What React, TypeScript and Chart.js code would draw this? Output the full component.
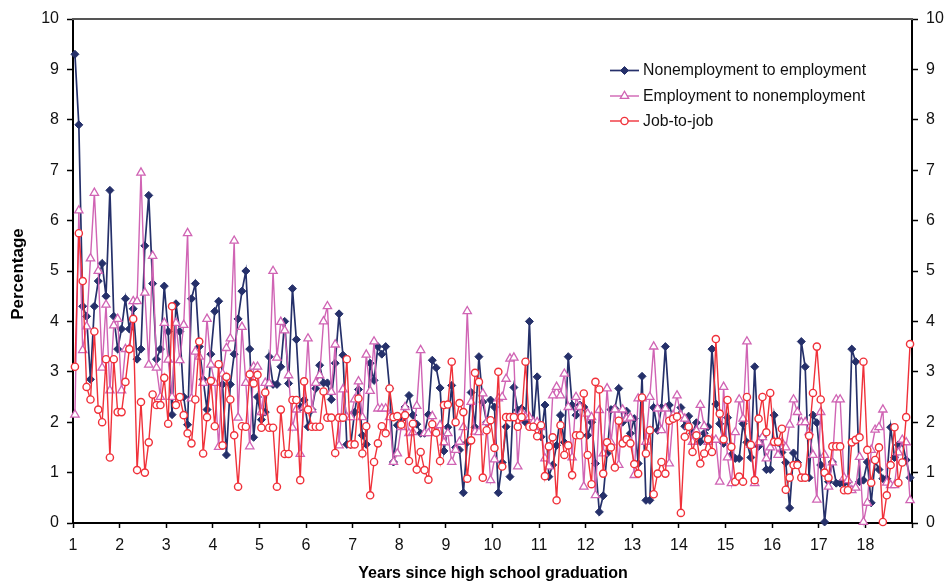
import React, { useEffect, useRef } from 'react';
import { Chart, registerables } from 'chart.js';

Chart.register(...registerables);

// Monthly transition rates (percent), one value per month starting at year 1.
const START_YEAR = 1;
const END_YEAR = 19;
const MONTHS_PER_YEAR = 12;

const nonempToEmp = [
  9.3, 7.9, 4.3, 4.1, 2.85, 4.3, 4.8, 5.15, 4.5, 6.6,
  4.1, 3.45, 3.85, 4.45, 3.85, 4.25, 3.25, 3.45, 5.5, 6.5,
  4.75, 3.25, 3.45, 4.7, 3.8, 2.15, 4.35, 3.8, 2.5, 1.95,
  4.45, 4.75, 3.5, 2.85, 2.25, 3.35, 4.2, 4.4, 2.75, 1.35,
  2.75, 3.35, 4.05, 4.6, 5.0, 3.45, 1.7, 2.5, 2.05, 2.2,
  3.3, 2.75, 2.75, 3.1, 4.0, 2.77, 4.65, 3.64, 2.29, 2.44,
  1.91, 2.25, 2.67, 3.13, 2.78, 2.78, 2.45, 3.17, 4.15, 3.33,
  1.56, 1.56, 2.2, 2.65, 1.74, 1.56, 3.17, 2.83, 3.5, 3.35,
  3.5, 2.67, 1.21, 1.94, 2.05, 2.3, 2.53, 2.14, 1.96, 1.78,
  1.78, 2.15, 3.23, 3.08, 2.68, 1.43, 1.9, 2.73, 1.5, 1.45,
  0.6, 1.6, 2.59, 1.9, 3.3, 2.4, 2.0, 2.44, 2.3, 0.6,
  1.2, 1.91, 0.92, 2.69, 2.24, 2.27, 2.0, 4.0, 1.91, 2.9,
  1.71, 2.34, 0.92, 1.15, 1.54, 2.14, 1.6, 3.3, 2.34, 2.14,
  2.34, 2.3, 1.74, 2.0, 1.18, 0.22, 0.54, 1.38, 2.25, 2.27,
  2.67, 2.0, 2.22, 1.78, 2.07, 1.18, 2.91, 0.45, 0.45, 2.29,
  1.84, 2.29, 3.5, 2.34, 2.07, 2.1, 2.29, 1.92, 2.12, 1.78,
  1.99, 1.61, 1.78, 1.91, 3.45, 2.36, 1.97, 1.58, 2.09, 1.35,
  1.28, 1.28, 1.97, 1.6, 1.3, 3.1, 1.52, 1.7, 1.06, 1.06,
  2.14, 1.6, 1.4, 1.2, 0.3, 1.39, 1.2, 3.6, 3.1, 0.9,
  2.14, 1.99, 1.15, 0.02, 0.82, 1.21, 0.79, 0.79, 0.79, 0.82,
  3.45, 3.2, 0.82, 0.85, 1.21, 0.4, 1.23, 1.06, 0.88, 0.88,
  1.9, 1.3, 1.55, 1.6, 1.25, 0.9,
];

const empToNonemp = [
  2.15, 6.2, 3.43, 3.9, 5.25, 6.55, 5.0, 3.08, 4.33, 2.63,
  3.92, 4.05, 2.63, 3.45, 3.46, 4.4, 4.4, 6.95, 4.57, 3.14,
  5.3, 3.08, 2.5, 3.97, 3.24, 2.5, 3.97, 3.23, 3.93, 5.75,
  2.47, 3.4, 3.3, 2.78, 4.05, 3.14, 2.78, 1.51, 2.96, 3.47,
  3.66, 5.6, 2.09, 3.89, 2.78, 1.52, 3.1, 3.1, 2.2, 2.78,
  2.77, 5.0, 3.28, 3.99, 3.82, 2.93, 1.89, 2.25, 1.37, 2.3,
  3.66, 2.25, 2.78, 2.93, 4.0, 4.3, 2.6, 3.54, 1.54, 2.65,
  2.1, 2.1, 2.45, 2.81, 2.1, 3.34, 2.62, 3.6, 2.27, 2.27,
  2.27, 2.1, 1.21, 1.38, 1.9, 2.3, 1.78, 1.8, 2.32, 3.43,
  1.78, 1.78, 2.12, 1.8, 1.94, 1.6, 1.78, 1.21, 1.45, 1.61,
  1.9, 4.2, 2.4, 1.81, 1.8, 2.57, 2.0, 0.85, 1.26, 2.47,
  2.5, 2.86, 3.26, 3.28, 1.12, 2.2, 2.1, 2.1, 2.0, 2.0,
  1.9, 1.28, 1.12, 2.53, 2.7, 2.53, 2.96, 2.3, 1.3, 2.5,
  2.3, 0.72, 2.17, 2.1, 0.55, 2.24, 1.38, 2.67, 1.6, 2.25,
  1.15, 2.25, 2.07, 2.09, 0.95, 2.47, 2.47, 1.61, 2.5, 3.5,
  2.27, 1.84, 2.27, 1.18, 2.14, 2.53, 2.14, 2.07, 1.92, 1.61,
  1.83, 2.34, 1.92, 1.61, 1.66, 1.65, 0.82, 2.7, 1.3, 0.79,
  1.8, 2.45, 2.07, 3.6, 1.55, 0.79, 1.6, 1.7, 1.28, 1.5,
  1.6, 1.35, 1.6, 1.5, 1.95, 2.45, 2.2, 2.0, 2.0, 1.8,
  1.35, 0.46, 2.2, 1.35, 0.72, 1.2, 2.45, 2.45, 0.9, 0.85,
  0.65, 0.7, 1.31, 0.02, 0.4, 1.45, 1.85, 1.9, 2.25, 0.8,
  0.75, 0.75, 1.4, 1.65, 1.6, 0.45,
];

const jobToJob = [
  3.1, 5.75, 4.8, 2.7, 2.45, 3.8, 2.25, 2.0, 3.25, 1.3,
  3.25, 2.2, 2.2, 2.8, 3.45, 4.05, 1.05, 2.4, 1.0, 1.6,
  2.55, 2.34, 2.34, 2.88, 1.97, 4.3, 2.34, 2.5, 2.14, 1.78,
  1.58, 2.45, 3.6, 1.38, 2.1, 2.82, 1.92, 3.15, 1.54, 2.9,
  2.45, 1.74, 0.72, 1.92, 1.91, 2.95, 2.77, 2.94, 1.89, 2.59,
  1.89, 1.89, 0.72, 2.25, 1.37, 1.37, 2.44, 2.44, 0.85, 2.81,
  2.25, 1.91, 1.91, 1.91, 2.61, 2.09, 2.09, 1.39, 2.09, 2.09,
  3.25, 1.56, 1.56, 2.47, 1.38, 1.92, 0.55, 1.21, 1.58, 1.92,
  1.78, 2.67, 2.1, 2.12, 1.95, 2.14, 1.23, 1.97, 1.06, 1.41,
  1.05, 0.86, 1.96, 1.79, 1.23, 2.34, 2.35, 3.2, 2.0, 2.38,
  2.2, 0.88, 1.64, 2.98, 2.8, 0.9, 1.84, 2.04, 1.49, 3.0,
  1.12, 2.1, 2.1, 2.1, 1.91, 2.1, 3.2, 1.91, 1.91, 1.72,
  1.94, 0.93, 1.52, 1.7, 0.45, 1.94, 1.35, 1.54, 0.95, 1.74,
  1.74, 2.57, 1.35, 0.77, 2.8, 2.65, 0.98, 1.6, 1.5, 1.1,
  2.03, 1.58, 1.66, 1.58, 1.17, 0.98, 2.49, 1.38, 1.84, 0.57,
  0.98, 1.21, 0.98, 2.03, 2.07, 2.11, 0.2, 1.71, 1.91, 1.41,
  1.74, 1.18, 1.38, 1.66, 1.41, 3.65, 2.17, 1.66, 2.44, 1.51,
  0.82, 0.92, 0.82, 2.5, 1.55, 0.85, 2.07, 2.5, 1.8, 2.58,
  1.61, 1.61, 1.87, 0.66, 0.9, 1.15, 1.15, 0.9, 0.9, 1.73,
  2.58, 3.5, 2.45, 1.0, 0.9, 1.52, 1.52, 1.52, 0.65, 0.65,
  1.6, 1.65, 1.7, 3.2, 1.45, 0.8, 1.25, 1.5, 0.02, 0.55,
  1.15, 1.9, 0.8, 1.2, 2.1, 3.55,
];

const seriesNames = [
  'Nonemployment to employment',
  'Employment to nonemployment',
  'Job-to-job',
];

const yTickValues = [0, 1, 2, 3, 4, 5, 6, 7, 8, 9, 10];
const xTickLabels = ['1', '2', '3', '4', '5', '6', '7', '8', '9', '10', '11', '12', '13', '14', '15', '16', '17', '18'];

const X_TITLE = 'Years since high school graduation';
const Y_TITLE = 'Percentage';

const FONT = "'Liberation Sans', Arial, Helvetica, sans-serif";
const NAVY = '#25306a';
const ORCHID = '#d064b4';
const RED = '#f0313a';

const toPoints = (values: number[]) =>
  values.map((v, i) => ({ x: START_YEAR + (i + 0.5) / MONTHS_PER_YEAR, y: v }));

// Marker shapes for the legend samples, matching the dataset point styles.
function drawMarker(ctx: CanvasRenderingContext2D, style: string, r: number, x: number, y: number) {
  ctx.beginPath();
  if (style === 'rectRot') {
    ctx.moveTo(x, y - r);
    ctx.lineTo(x + r, y);
    ctx.lineTo(x, y + r);
    ctx.lineTo(x - r, y);
    ctx.closePath();
  } else if (style === 'triangle') {
    for (let k = 0; k < 3; k++) {
      const a = -Math.PI / 2 + (k * 2 * Math.PI) / 3;
      const px = x + Math.cos(a) * r;
      const py = y + Math.sin(a) * r;
      if (k === 0) ctx.moveTo(px, py);
      else ctx.lineTo(px, py);
    }
    ctx.closePath();
  } else {
    ctx.arc(x, y, r, 0, Math.PI * 2);
  }
  ctx.fill();
  ctx.stroke();
}

// Inline legend in the upper right of the plot, with line + marker samples.
const insetLegend = {
  id: 'insetLegend',
  afterDatasetsDraw(chart: any) {
    const { ctx } = chart;
    const x0 = 610;
    const x1 = 639;
    const textX = 643;
    const rows = [70.5, 96, 121];
    ctx.save();
    chart.data.datasets.forEach((ds: any, k: number) => {
      const y = rows[k];
      ctx.strokeStyle = ds.borderColor;
      ctx.lineWidth = ds.borderWidth;
      ctx.beginPath();
      ctx.moveTo(x0, y);
      ctx.lineTo(x1, y);
      ctx.stroke();
      ctx.fillStyle = ds.pointBackgroundColor;
      ctx.strokeStyle = ds.pointBorderColor;
      ctx.lineWidth = ds.pointBorderWidth;
      drawMarker(ctx, ds.pointStyle, ds.pointRadius, (x0 + x1) / 2, y);
      ctx.fillStyle = '#111';
      ctx.font = `15.8px ${FONT}`;
      ctx.textAlign = 'left';
      ctx.textBaseline = 'middle';
      ctx.fillText(seriesNames[k], textX, y + 0.5);
    });
    ctx.restore();
  },
};

// Frame top edge and the two axis titles.
const frameAndTitles = {
  id: 'frameAndTitles',
  beforeDatasetsDraw(chart: any) {
    const { ctx, chartArea } = chart;
    ctx.save();
    ctx.strokeStyle = '#555';
    ctx.lineWidth = 2;
    ctx.beginPath();
    ctx.moveTo(chartArea.left - 1, chartArea.top);
    ctx.lineTo(chartArea.right + 1, chartArea.top);
    ctx.stroke();
    ctx.restore();
  },
  afterDraw(chart: any) {
    const { ctx, chartArea } = chart;
    ctx.save();
    ctx.fillStyle = '#000';
    ctx.font = `bold 16px ${FONT}`;
    ctx.textAlign = 'center';
    ctx.textBaseline = 'middle';
    ctx.fillText(X_TITLE, (chartArea.left + chartArea.right) / 2 + 0.5, 573.5);
    ctx.translate(18, 274);
    ctx.rotate(-Math.PI / 2);
    ctx.font = `bold 17px ${FONT}`;
    ctx.fillText(Y_TITLE, 0, 0);
    ctx.restore();
  },
};

export default function App() {
  const canvasRef = useRef<HTMLCanvasElement | null>(null);

  useEffect(() => {
    if (!canvasRef.current) return;
    const tickFont = { family: FONT, size: 16 };
    const yAxis = (position: 'left' | 'right', width: number) => ({
      type: 'linear' as const,
      position,
      min: 0,
      max: 10,
      afterFit: (scale: any) => {
        scale.width = width;
      },
      afterBuildTicks: (scale: any) => {
        scale.ticks = yTickValues.map((v) => ({ value: v }));
      },
      ticks: {
        font: tickFont,
        color: '#111',
        padding: 8,
      },
      grid: {
        drawOnChartArea: false,
        drawTicks: true,
        tickLength: 6,
        tickColor: '#000',
        tickWidth: 1.5,
      },
      border: { display: true, color: '#000', width: 2 },
    });

    const chart = new Chart(canvasRef.current, {
      type: 'line',
      data: {
        datasets: [
          {
            label: seriesNames[0],
            data: toPoints(nonempToEmp),
            borderColor: NAVY,
            backgroundColor: NAVY,
            borderWidth: 1.7,
            pointStyle: 'rectRot',
            pointRadius: 4,
            pointBackgroundColor: NAVY,
            pointBorderColor: NAVY,
            pointBorderWidth: 1,
            order: 3,
            clip: false,
          },
          {
            label: seriesNames[1],
            data: toPoints(empToNonemp),
            borderColor: ORCHID,
            backgroundColor: '#fff',
            borderWidth: 1.4,
            pointStyle: 'triangle',
            pointRadius: 4.8,
            pointBackgroundColor: '#fff',
            pointBorderColor: ORCHID,
            pointBorderWidth: 1.3,
            order: 2,
            clip: false,
          },
          {
            label: seriesNames[2],
            data: toPoints(jobToJob),
            borderColor: RED,
            backgroundColor: '#fff',
            borderWidth: 1.4,
            pointStyle: 'circle',
            pointRadius: 3.6,
            pointBackgroundColor: '#fff',
            pointBorderColor: RED,
            pointBorderWidth: 1.4,
            order: 1,
            clip: false,
          },
        ] as any,
      },
      options: {
        animation: false,
        responsive: true,
        maintainAspectRatio: false,
        layout: { padding: { top: 19, left: 0, right: 0, bottom: 0 } },
        plugins: {
          legend: { display: false },
          tooltip: { enabled: false },
        },
        elements: { line: { tension: 0 } },
        scales: {
          x: {
            type: 'linear',
            position: 'bottom',
            min: START_YEAR,
            max: END_YEAR,
            afterFit: (scale: any) => {
              scale.height = 60;
            },
            ticks: {
              stepSize: 1,
              autoSkip: false,
              maxRotation: 0,
              font: tickFont,
              color: '#111',
              padding: 8,
              callback: (value: any) => {
                const idx = Math.round(Number(value)) - START_YEAR;
                return xTickLabels[idx] ?? '';
              },
            },
            grid: {
              drawOnChartArea: false,
              drawTicks: true,
              tickLength: 5,
              tickColor: '#000',
              tickWidth: 1.5,
            },
            border: { display: true, color: '#000', width: 2 },
          },
          y: yAxis('left', 73),
          y2: yAxis('right', 36),
        },
      },
      plugins: [frameAndTitles, insetLegend],
    });
    return () => chart.destroy();
  }, []);

  return (
    <div style={{ position: 'fixed', left: 0, top: 0, width: 948, height: 583, background: '#fff' }}>
      <canvas ref={canvasRef} />
    </div>
  );
}
